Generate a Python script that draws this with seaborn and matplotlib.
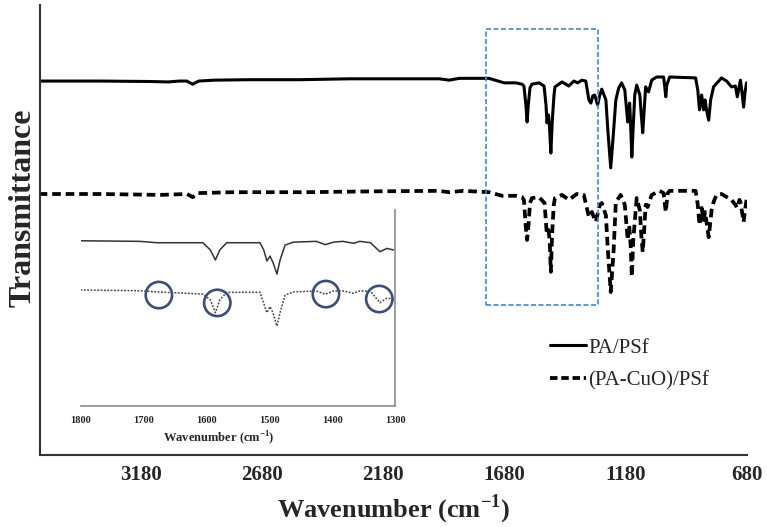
import matplotlib
matplotlib.use("Agg")
import matplotlib.pyplot as plt
import seaborn as sns
import pandas as pd
from matplotlib.lines import Line2D
from matplotlib.patches import Rectangle

# ---------------- data ----------------
wn_solid = [3596, 3350, 3140, 3069, 3020, 2991, 2966, 2941, 2875, 2730,
            2525, 2320, 2115, 1950, 1908, 1867, 1744, 1682, 1633, 1608,
            1600, 1592, 1587, 1582, 1575, 1567, 1538, 1517, 1509, 1505,
            1499, 1495, 1489, 1483, 1476, 1472, 1443, 1415, 1394, 1378,
            1361, 1345, 1332, 1324, 1316, 1308, 1296, 1288, 1279, 1262,
            1254, 1242, 1230, 1221, 1209, 1197, 1184, 1172, 1168, 1164,
            1160, 1155, 1149, 1143, 1135, 1122, 1116, 1110, 1104, 1098,
            1086, 1073, 1053, 1024, 1020, 1015, 1011, 999, 892, 883,
            876, 867, 859, 853, 847, 838, 830, 818, 785, 764,
            744, 728, 720, 711, 707, 701, 694, 688, 682]
T_solid = [83.1, 83.1, 83.0, 82.9, 83.1, 83.1, 82.4, 83.1, 83.3, 83.4,
           83.4, 83.6, 83.6, 83.6, 83.3, 83.7, 83.7, 82.7, 82.7, 82.4,
           82.0, 77.8, 74.0, 77.8, 81.6, 82.4, 82.7, 82.0, 77.8, 73.8,
           75.6, 73.3, 67.1, 74.4, 80.0, 81.8, 82.9, 82.0, 83.1, 82.7,
           83.3, 83.1, 78.9, 78.2, 79.8, 80.0, 77.8, 79.8, 81.3, 78.9,
           72.2, 63.8, 72.2, 78.9, 81.6, 82.7, 81.1, 74.0, 76.7, 78.2,
           73.3, 66.2, 73.3, 80.0, 82.2, 80.0, 75.6, 71.6, 76.7, 81.8,
           80.7, 83.3, 84.0, 84.0, 82.2, 79.6, 82.2, 84.0, 83.8, 81.1,
           76.7, 80.0, 76.7, 78.9, 76.7, 74.4, 78.9, 81.8, 83.8, 83.1,
           81.8, 82.0, 79.6, 82.2, 83.3, 80.7, 77.3, 80.7, 82.7]

wn_dash = [3596, 3350, 3100, 2990, 2966, 2945, 2800, 2500, 2200, 1950,
           1910, 1850, 1744, 1690, 1633, 1608, 1600, 1593, 1587, 1581,
           1575, 1567, 1538, 1515, 1506, 1499, 1494, 1489, 1484, 1477,
           1472, 1443, 1415, 1382, 1353, 1332, 1320, 1304, 1287, 1279,
           1262, 1254, 1242, 1230, 1221, 1201, 1184, 1172, 1166, 1160,
           1155, 1149, 1135, 1122, 1116, 1110, 1104, 1098, 1090, 1073,
           1040, 1024, 1015, 1007, 999, 892, 883, 876, 867, 859,
           853, 838, 826, 818, 806, 785, 744, 728, 720, 711,
           707, 694, 688, 682]
T_dash = [58.0, 58.0, 57.8, 58.0, 57.3, 58.2, 58.4, 58.4, 58.6, 58.7,
          58.4, 58.7, 58.4, 57.6, 57.6, 57.3, 56.7, 51.1, 47.8, 51.1,
          56.0, 57.1, 57.3, 56.0, 49.3, 50.0, 47.8, 40.7, 48.9, 55.6,
          57.1, 57.8, 56.7, 58.0, 57.8, 52.9, 54.0, 51.8, 55.6, 56.0,
          53.3, 45.6, 36.2, 45.6, 56.2, 57.8, 55.6, 47.8, 51.1, 46.7,
          39.6, 47.8, 57.1, 54.4, 48.9, 45.1, 50.0, 55.6, 55.1, 57.8,
          58.7, 58.2, 54.0, 58.2, 58.7, 58.7, 55.6, 51.1, 54.9, 52.2,
          54.0, 48.4, 54.4, 56.2, 57.8, 58.0, 56.7, 55.6, 54.9, 56.7,
          56.2, 51.8, 54.4, 56.7]

# inset (zoom 1800-1300 cm-1)
wn_inset = [1800, 1706, 1679, 1606, 1594, 1586, 1579, 1568, 1515, 1509,
            1504, 1499, 1494, 1488, 1483, 1475, 1462, 1425, 1411, 1398,
            1383, 1366, 1356, 1339, 1324, 1313, 1302]
T_inset_solid = [84.3, 84.0, 83.3, 83.3, 79.6, 74.5, 79.6, 83.3, 83.3, 79.6,
                 74.0, 76.5, 73.0, 67.3, 74.5, 82.1, 83.6, 84.0, 82.3, 83.6,
                 84.0, 83.0, 84.0, 83.3, 78.7, 80.4, 79.6]
T_inset_dot = [59.2, 58.8, 58.2, 57.1, 54.1, 47.6, 54.1, 58.0, 58.0, 52.4,
               47.6, 50.7, 47.3, 40.8, 47.6, 56.6, 58.2, 58.7, 57.0, 58.7,
               58.7, 57.5, 58.7, 58.5, 52.7, 55.0, 54.6]
circle_wn = [1676, 1583, 1410, 1325]
circle_T = [56.6, 52.6, 57.1, 54.6]

main_ticks = [3180, 2680, 2180, 1680, 1180, 680]
inset_ticks = [1800, 1700, 1600, 1500, 1400, 1300]
series_labels = ["PA/PSf", "(PA-CuO)/PSf"]
box_wn = (1756, 1295)
box_T = (33.3, 94.6)

# ---------------- style ----------------
sns.set_theme(style="white")
plt.rcParams["font.family"] = ["Liberation Serif", "DejaVu Serif"]
plt.rcParams["mathtext.fontset"] = "custom"
plt.rcParams["mathtext.rm"] = "Liberation Serif"
plt.rcParams["mathtext.bf"] = "Liberation Serif:bold"

W, H = 767, 527
fig = plt.figure(figsize=(W / 100, H / 100), dpi=100)
ax = fig.add_axes([40 / W, 1 - 455 / H, 707 / W, 450 / H])

df_s = pd.DataFrame({"wn": wn_solid, "T": T_solid})
df_d = pd.DataFrame({"wn": wn_dash, "T": T_dash})
sns.lineplot(data=df_s, x="wn", y="T", ax=ax, color="black", lw=2.2,
             estimator=None)
sns.lineplot(data=df_d, x="wn", y="T", ax=ax, color="black", lw=2.7,
             linestyle=(0, (2.3, 1.3)), estimator=None)

ax.set_xlim(3596, 680)
ax.set_ylim(0, 100)
ax.set_xticks(main_ticks)
ax.set_xticklabels([str(t) for t in main_ticks], fontsize=15, fontweight="bold")
ax.set_yticks([])
ax.tick_params(axis="x", length=0, pad=7)
for s in ["top", "right"]:
    ax.spines[s].set_visible(False)
for s in ["left", "bottom"]:
    ax.spines[s].set_color("#333333")
    ax.spines[s].set_linewidth(1.5)

ax.set_xlabel(r"Wavenumber (cm$^{\mathbf{-1}}$)", fontsize=19,
              fontweight="bold")
ax.xaxis.set_label_coords(0.5, -0.083)
ax.set_ylabel("Transmittance", fontsize=23, fontweight="bold")
ax.yaxis.set_label_coords(-0.004, 0.55)

# highlight box
ax.add_patch(Rectangle((box_wn[0], box_T[0]), box_wn[1] - box_wn[0],
                       box_T[1] - box_T[0], fill=False, ec="#4a84c4",
                       lw=1.2, ls=(0, (3, 1.5)), zorder=3))

# legend
handles = [Line2D([], [], color="black", lw=2.2),
           Line2D([], [], color="black", lw=2.7, ls=(0, (2.0, 1.0)))]
fig.legend(handles, series_labels, loc="upper left",
           bbox_to_anchor=(550 / W, 1 - 338 / H), frameon=False,
           fontsize=15, handlelength=1.75, handletextpad=0.1,
           labelspacing=0.62, borderpad=0, borderaxespad=0)

# inset
axi = fig.add_axes([81 / W, 1 - 406 / H, 314 / W, 196 / H])
df_is = pd.DataFrame({"wn": wn_inset, "T": T_inset_solid})
df_id = pd.DataFrame({"wn": wn_inset, "T": T_inset_dot})
sns.lineplot(data=df_is, x="wn", y="T", ax=axi, color="#333333", lw=1.1,
             estimator=None)
sns.lineplot(data=df_id, x="wn", y="T", ax=axi, color="#444444", lw=1.1,
             linestyle=(0, (1.2, 1.0)), estimator=None)
sns.scatterplot(x=circle_wn, y=circle_T, ax=axi, s=360, facecolors="none",
                edgecolors="#3c4e78", linewidths=1.9, zorder=4)
axi.set_xlim(1800, 1300)
axi.set_ylim(0, 100)
axi.set_xticks(inset_ticks)
axi.set_xticklabels([str(t) for t in inset_ticks], fontsize=7.5,
                    fontweight="bold")
axi.set_yticks([])
axi.tick_params(axis="x", length=0, pad=7)
axi.patch.set_alpha(0)
for s in ["top", "left"]:
    axi.spines[s].set_visible(False)
for s in ["bottom", "right"]:
    axi.spines[s].set_color("#8c8c8c")
    axi.spines[s].set_linewidth(1.2)
axi.set_xlabel(r"Wavenumber (cm$^{\mathbf{-1}}$)", fontsize=9,
               fontweight="bold")
axi.xaxis.set_label_coords(0.44, -0.12)
axi.set_ylabel("")

fig.savefig("out.png", dpi=100)
